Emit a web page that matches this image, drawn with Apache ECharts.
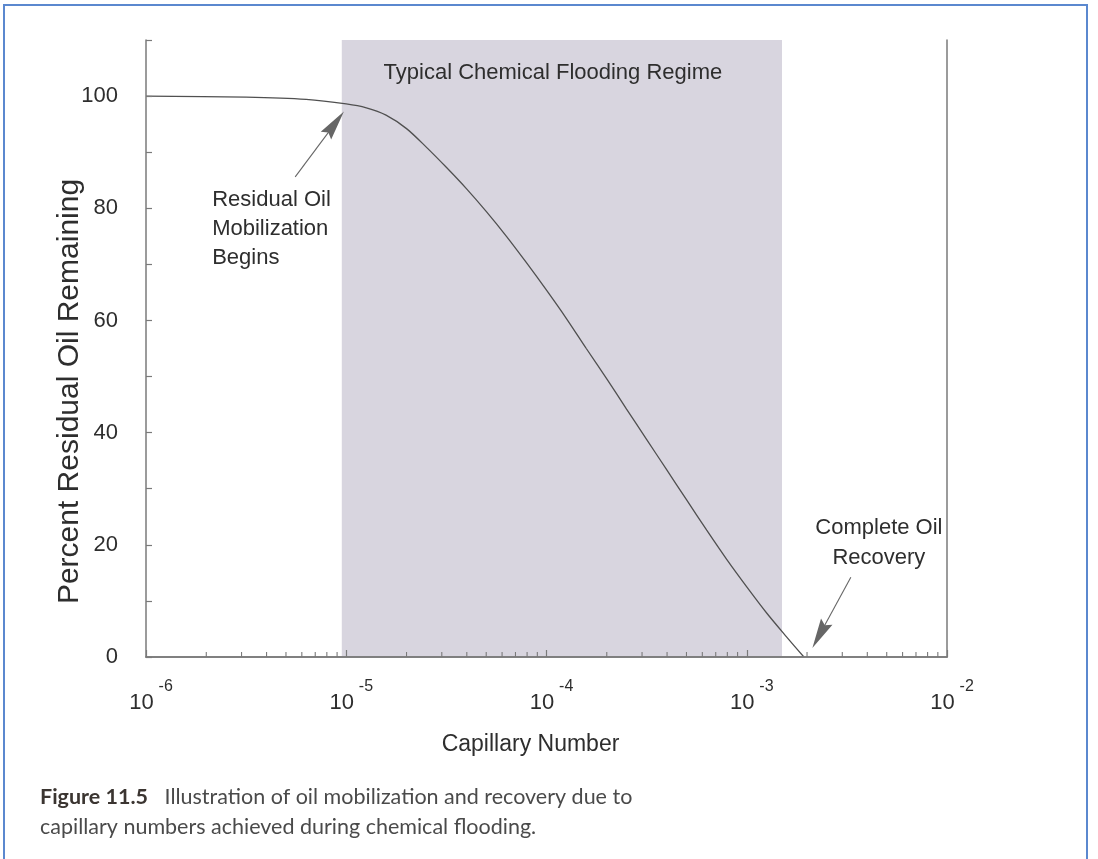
<!DOCTYPE html>
<html>
<head>
<meta charset="utf-8">
<script src="https://cdn.jsdelivr.net/npm/echarts@6/dist/echarts.min.js"></script>
<style>
  html, body { margin: 0; padding: 0; background: #fff; overflow: hidden; }
  #frame { position: absolute; left: 3px; top: 4px; width: 1085px; height: 900px;
           border: 2px solid #5b88cf; border-bottom: none; box-sizing: border-box; }
  #chart { position: absolute; left: 0; top: 0; width: 1098px; height: 859px; }
</style>
</head>
<body>
<div id="frame"></div>
<div id="chart"></div>
<script>
// Residual oil remaining versus capillary number
const capillaryNumber = [
  1.0e-6, 3.16e-6, 6.31e-6, 1.0e-5, 1.26e-5, 1.58e-5, 2.0e-5, 2.51e-5, 3.16e-5,
  3.98e-5, 5.01e-5, 6.31e-5, 7.94e-5, 1.0e-4, 1.26e-4, 1.58e-4, 2.0e-4, 2.51e-4,
  3.16e-4, 3.98e-4, 5.01e-4, 6.31e-4, 7.94e-4, 1.0e-3, 1.26e-3, 1.58e-3, 1.93e-3
];
const residualOil = [
  100.0, 99.8, 99.4, 98.6, 97.9, 96.6, 94.2, 90.9, 87.3,
  83.5, 79.4, 75.0, 70.3, 65.4, 60.3, 55.0, 49.6, 44.2,
  38.8, 33.4, 28.0, 22.6, 17.4, 12.5, 7.8, 3.6, 0.0
];

// Capillary number range of a typical chemical flood
const regimeRange = [9.5e-6, 1.5e-3];
const regimeLabel = 'Typical Chemical Flooding Regime';

// Axis ticks
const yTickLabels = [0, 20, 40, 60, 80, 100];
const xDecades = [1e-6, 1e-5, 1e-4, 1e-3, 1e-2];
const xMinorMultipliers = [2, 3, 4, 5, 6, 7, 8, 9];
const xMinorTicks = [];
xDecades.slice(0, -1).forEach(d => xMinorMultipliers.forEach(m => xMinorTicks.push(d * m)));

// Annotations: [tail, arrowhead centre] and text anchors
const mobilizationArrow = [[5.56e-6, 85.6], [8.78e-6, 95.1]];
const recoveryArrow = [[3.31e-3, 14.2], [2.31e-3, 3.96]];
const mobilizationText = { coord: [2.14e-6, 84.0], text: 'Residual Oil\nMobilization\nBegins' };
const recoveryText = { coord: [4.57e-3, 25.6], text: 'Complete Oil\nRecovery' };

const FONT = "'Liberation Sans', Arial, Helvetica, sans-serif";
const CAPTION_FONT = "Lato, 'Open Sans', sans-serif";
const AXIS_COLOR = '#7a7a7a';
const TEXT_COLOR = '#2e2e2e';
const DART = 'path://M6,0 L12,30 L6,26 L0,30 Z';

const chart = echarts.init(document.getElementById('chart'), null, { renderer: 'canvas' });

const hiddenAxisParts = {
  axisTick: { show: false }, axisLabel: { show: false }, splitLine: { show: false }
};

const option = {
  backgroundColor: 'transparent',
  animation: false,
  grid: { left: 146, right: 151, top: 40, bottom: 202, show: false },
  xAxis: [
    {
      type: 'log', logBase: 10, min: 1e-6, max: 1e-2, position: 'bottom', z: 10,
      name: 'Capillary Number', nameLocation: 'middle', nameGap: 76,
      nameTextStyle: { fontFamily: FONT, fontSize: 23, color: TEXT_COLOR, padding: [0, 32, 0, 0] },
      axisLine: { lineStyle: { color: AXIS_COLOR, width: 1.5 } },
      axisTick: { inside: true, length: 7, lineStyle: { color: AXIS_COLOR, width: 1.2 } },
      splitLine: { show: false },
      axisLabel: {
        margin: 22,
        formatter: v => '{b|10}{s|' + Math.round(Math.log10(v)) + '}',
        rich: {
          b: { fontFamily: FONT, fontSize: 22, color: TEXT_COLOR, verticalAlign: 'bottom', padding: [0, 0, 0, 10] },
          s: { fontFamily: FONT, fontSize: 16, color: TEXT_COLOR, padding: [0, 0, 19, 5], verticalAlign: 'bottom' }
        }
      }
    },
    Object.assign({
      type: 'log', logBase: 10, min: 1e-6, max: 1e-2, position: 'top', z: 10,
      axisLine: { lineStyle: { color: AXIS_COLOR, width: 1.5 } }
    }, hiddenAxisParts)
  ],
  yAxis: [
    {
      type: 'value', min: 0, max: 110, interval: 10, position: 'left', z: 10,
      name: 'Percent Residual Oil Remaining', nameLocation: 'middle', nameGap: 61, nameRotate: 90,
      nameMoveOverlap: false,
      nameTextStyle: { fontFamily: FONT, fontSize: 30, color: TEXT_COLOR, padding: [0, 86, 0, 0] },
      axisLine: { show: true, lineStyle: { color: AXIS_COLOR, width: 1.5 } },
      axisTick: { show: true, inside: true, length: 6, lineStyle: { color: AXIS_COLOR, width: 1.2 } },
      splitLine: { show: false },
      axisLabel: {
        margin: 28, fontFamily: FONT, fontSize: 22, color: TEXT_COLOR,
        formatter: v => (yTickLabels.indexOf(v) >= 0 ? String(v) : '')
      }
    },
    Object.assign({
      type: 'value', min: 0, max: 110, position: 'right', z: 10,
      axisLine: { show: true, lineStyle: { color: AXIS_COLOR, width: 1.5 } }
    }, hiddenAxisParts)
  ],
  series: [
    {
      name: 'Residual oil',
      type: 'line',
      xAxisIndex: 0, yAxisIndex: 0,
      data: capillaryNumber.map((c, i) => [c, residualOil[i]]),
      showSymbol: false,
      symbol: 'none',
      smooth: 0.3,
      z: 5,
      lineStyle: { color: '#505050', width: 1.3 },
      markArea: {
        silent: true,
        itemStyle: { color: '#d8d5df' },
        label: {
          show: true, position: 'insideTop', distance: 20, offset: [-9, 2],
          fontFamily: FONT, fontSize: 22, color: TEXT_COLOR
        },
        data: [[{ xAxis: regimeRange[0], name: regimeLabel }, { xAxis: regimeRange[1] }]]
      },
      markLine: {
        silent: true,
        animation: false,
        label: { show: false },
        lineStyle: { color: '#666', width: 1.1, type: 'solid' },
        emphasis: { disabled: true },
        data: [mobilizationArrow, recoveryArrow].map(a => [
          { coord: a[0], symbol: 'none' },
          { coord: a[1], symbol: DART, symbolSize: [13, 30], itemStyle: { color: '#2a2a2a' } }
        ])
      },
      markPoint: {
        silent: true,
        animation: false,
        symbol: 'circle',
        symbolSize: 0,
        data: [
          {
            coord: mobilizationText.coord, value: mobilizationText.text,
            label: { show: true, position: 'inside', align: 'left', verticalAlign: 'top',
                     formatter: mobilizationText.text, lineHeight: 29,
                     fontFamily: FONT, fontSize: 22, color: TEXT_COLOR }
          },
          {
            coord: recoveryText.coord, value: recoveryText.text,
            label: { show: true, position: 'inside', align: 'center', verticalAlign: 'top',
                     formatter: recoveryText.text, lineHeight: 30,
                     fontFamily: FONT, fontSize: 22, color: TEXT_COLOR }
          }
        ]
      }
    },
    {
      name: 'Minor ticks',
      type: 'custom',
      xAxisIndex: 0, yAxisIndex: 0,
      silent: true,
      z: 11,
      data: xMinorTicks.map(v => [v, 0]),
      renderItem: (params, api) => {
        const p = api.coord([api.value(0), 0]);
        return {
          type: 'line',
          shape: { x1: p[0], y1: p[1], x2: p[0], y2: p[1] - 5 },
          style: { stroke: AXIS_COLOR, lineWidth: 1.1 }
        };
      }
    }
  ],
  graphic: [
    {
      type: 'text', left: 40, top: 782,
      style: {
        text: '{f|Figure 11.5}{t|   Illustration of oil mobilization and recovery due to}\n{t|capillary numbers achieved during chemical flooding.}',
        lineHeight: 30,
        rich: {
          f: { fontFamily: CAPTION_FONT, fontSize: 21.5, fontWeight: 'bold', fill: '#3b3531', lineHeight: 30 },
          t: { fontFamily: CAPTION_FONT, fontSize: 21.5, fill: '#4a4a4a', lineHeight: 30 }
        }
      }
    }
  ]
};

chart.setOption(option);
</script>
</body>
</html>
